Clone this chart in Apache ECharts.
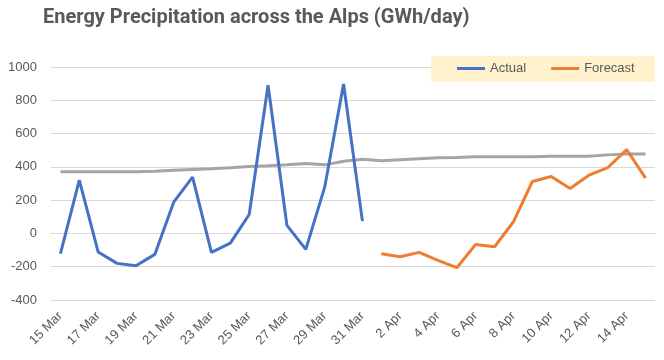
<!DOCTYPE html>
<html>
<head>
<meta charset="utf-8">
<script src="https://cdn.jsdelivr.net/npm/echarts@6/dist/echarts.min.js"></script>
<style>html,body{margin:0;padding:0;background:#fff}#c{width:664px;height:360px}</style>
</head>
<body>
<div id="c"></div>
<script>
const categories = ['15 Mar','16 Mar','17 Mar','18 Mar','19 Mar','20 Mar','21 Mar','22 Mar','23 Mar','24 Mar','25 Mar','26 Mar','27 Mar','28 Mar','29 Mar','30 Mar','31 Mar',
  '1 Apr','2 Apr','3 Apr','4 Apr','5 Apr','6 Apr','7 Apr','8 Apr','9 Apr','10 Apr','11 Apr','12 Apr','13 Apr','14 Apr','15 Apr'];
const actual = [-122, 320, -112, -180, -194, -126, 188, 338, -114, -58, 114, 890, 48, -96, 278, 898, 74];
const forecast = [null,null,null,null,null,null,null,null,null,null,null,null,null,null,null,null,null,
  -122, -140, -114, -162, -206, -66, -80, 70, 312, 342, 270, 350, 396, 504, 332];
const average = [370, 370, 370, 370, 370, 374, 380, 384, 388, 394, 402, 406, 412, 420, 412, 434, 446,
  436, 442, 448, 454, 456, 460, 460, 460, 460, 464, 464, 464, 472, 478, 478];
const yTicks = {min: -400, max: 1000, interval: 200};

const chart = echarts.init(document.getElementById('c'), null, {renderer: 'canvas'});
chart.setOption({
  animation: false,
  title: {
    text: 'Energy Precipitation across the Alps (GWh/day)',
    left: 38, top: 3,
    textStyle: {fontFamily: 'Roboto', fontWeight: 'bold', fontSize: 20, color: '#595959'}
  },
  legend: {
    data: ['Actual', 'Forecast'],
    left: 431, top: 56,
    padding: [6, 20, 7, 26],
    backgroundColor: '#FFF2CC',
    icon: 'rect', itemWidth: 28, itemHeight: 3, itemGap: 25,
    textStyle: {fontFamily: 'Liberation Sans', fontSize: 13, color: '#595959'}
  },
  grid: {left: 51, right: 9, top: 67, bottom: 60, containLabel: false},
  xAxis: {
    type: 'category', data: categories, boundaryGap: true,
    axisTick: {show: false},
    axisLine: {lineStyle: {color: '#D9D9D9'}},
    axisLabel: {interval: 1, rotate: 45, fontFamily: 'Liberation Sans', fontSize: 13, color: '#595959', margin: 14}
  },
  yAxis: {
    type: 'value', min: yTicks.min, max: yTicks.max, interval: yTicks.interval,
    axisLine: {show: false}, axisTick: {show: false},
    axisLabel: {fontFamily: 'Liberation Sans', fontSize: 13, color: '#595959', margin: 14,
      formatter: function (v) { return String(v); }},
    splitLine: {lineStyle: {color: '#D9D9D9', width: 1}}
  },
  series: [
    {name: 'Average', type: 'line', data: average, showSymbol: false, symbol: 'none',
     lineStyle: {color: '#A5A5A5', width: 3}, itemStyle: {color: '#A5A5A5'}},
    {name: 'Actual', type: 'line', data: actual, showSymbol: false, symbol: 'none',
     lineStyle: {color: '#4472C4', width: 3}, itemStyle: {color: '#4472C4'}},
    {name: 'Forecast', type: 'line', data: forecast, showSymbol: false, symbol: 'none',
     lineStyle: {color: '#ED7D31', width: 3}, itemStyle: {color: '#ED7D31'}}
  ]
});
</script>
</body>
</html>
